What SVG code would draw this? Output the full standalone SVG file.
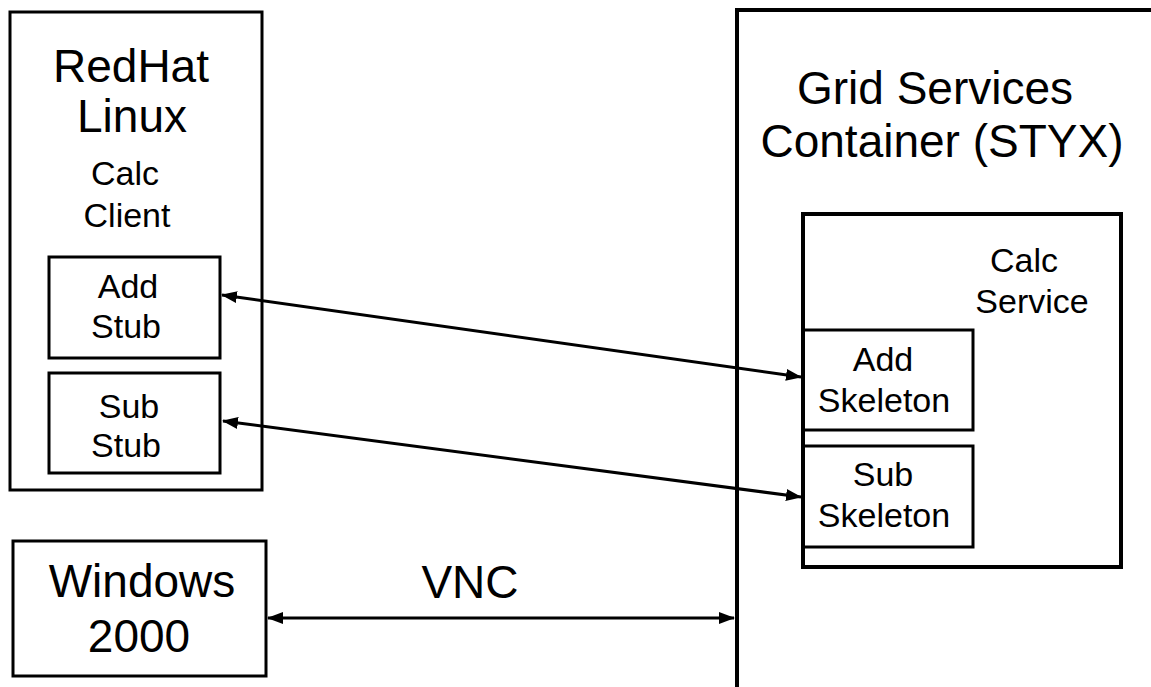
<svg xmlns="http://www.w3.org/2000/svg" width="1151" height="687" viewBox="0 0 1151 687">
<style>
.box{fill:none;stroke:#000;stroke-width:3}
.big{font-family:"Liberation Sans",Arial,sans-serif;font-size:46px;fill:#000;text-anchor:middle}
.sm{font-family:"Liberation Sans",Arial,sans-serif;font-size:34px;fill:#000;text-anchor:middle}
.conn{stroke:#000;stroke-width:3;fill:none;marker-start:url(#ah);marker-end:url(#ah)}
</style>
<defs>
<marker id="ah" markerUnits="userSpaceOnUse" markerWidth="16" markerHeight="12" viewBox="0 0 16 12" refX="15" refY="6" orient="auto-start-reverse">
<path d="M0,0 L16,6 L0,12 Z" fill="#000"/>
</marker>
</defs>
<rect width="1151" height="687" fill="#fff"/>
<g id="redhat">
<rect class="box" x="10" y="12" width="252" height="478"/>
<text class="big" x="131" y="82">RedHat</text>
<text class="big" x="132" y="132">Linux</text>
<text class="sm" x="125" y="185">Calc</text>
<text class="sm" x="127" y="227">Client</text>
</g>
<g id="addstub">
<rect class="box" x="49" y="257" width="171" height="101"/>
<text class="sm" x="128" y="298">Add</text>
<text class="sm" x="126" y="338">Stub</text>
</g>
<g id="substub">
<rect class="box" x="49" y="373" width="171" height="100"/>
<text class="sm" x="129" y="418">Sub</text>
<text class="sm" x="126" y="457">Stub</text>
</g>
<g id="windows">
<rect class="box" x="13" y="541" width="253" height="135"/>
<text class="big" x="142" y="597">Windows</text>
<text class="big" x="139" y="652">2000</text>
</g>
<g id="grid">
<rect class="box" x="737" y="10" width="500" height="800" style="stroke-width:4"/>
<text class="big" x="935" y="104">Grid Services</text>
<text class="big" x="942" y="157">Container (STYX)</text>
</g>
<g id="calcservice">
<rect class="box" x="803" y="214" width="318" height="353" style="stroke-width:4"/>
<text class="sm" x="1024" y="272">Calc</text>
<text class="sm" x="1032" y="313">Service</text>
</g>
<g id="addskel">
<rect class="box" x="803" y="330" width="170" height="100"/>
<text class="sm" x="883" y="371">Add</text>
<text class="sm" x="884" y="412">Skeleton</text>
</g>
<g id="subskel">
<rect class="box" x="803" y="446" width="170" height="101"/>
<text class="sm" x="883" y="486">Sub</text>
<text class="sm" x="884" y="527">Skeleton</text>
</g>
<g id="connectors">
<line class="conn" x1="222" y1="295" x2="801" y2="377"/>
<line class="conn" x1="223" y1="421" x2="801" y2="497"/>
<line class="conn" x1="268" y1="618" x2="734" y2="618"/>
<text class="big" x="470" y="598">VNC</text>
</g>
</svg>
